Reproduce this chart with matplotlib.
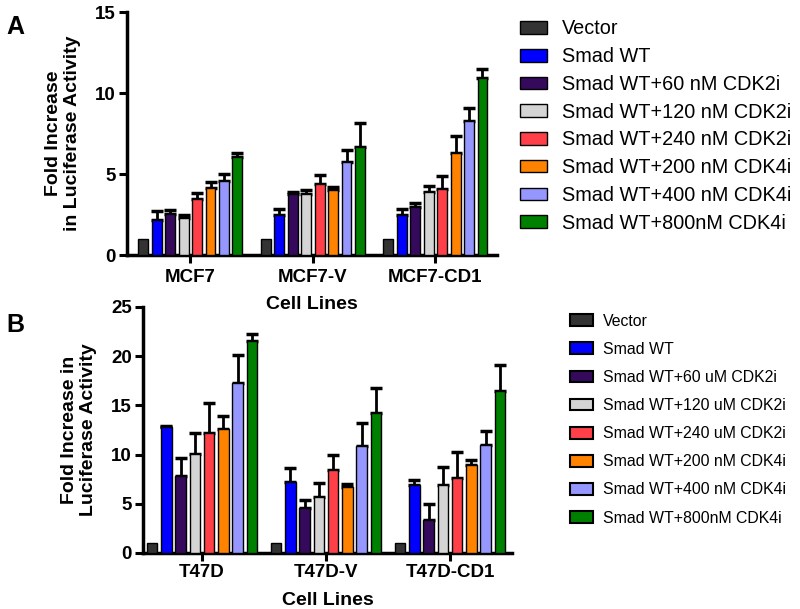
"""Luciferase reporter assay: fold increase per cell line, panels A and B."""

import numpy as np
from matplotlib import pyplot as plt
from matplotlib.patches import Patch

plt.rcParams["font.family"] = ["Liberation Sans", "DejaVu Sans"]

# panel A
groups_a = ["MCF7", "MCF7-V", "MCF7-CD1"]
labels_a = [
    "Vector",
    "Smad WT",
    "Smad WT+60 nM CDK2i",
    "Smad WT+120 nM CDK2i",
    "Smad WT+240 nM CDK2i",
    "Smad WT+200 nM CDK4i",
    "Smad WT+400 nM CDK4i",
    "Smad WT+800nM CDK4i",
]
mean_a = [
    [1.0, 1.0, 1.0],
    [2.2, 2.5, 2.45],
    [2.55, 3.8, 3.0],
    [2.3, 3.8, 3.9],
    [3.45, 4.4, 4.1],
    [4.15, 4.0, 6.3],
    [4.6, 5.75, 8.3],
    [6.05, 6.7, 10.95],
]
err_a = [
    [0.0, 0.0, 0.0],
    [0.5, 0.37, 0.41],
    [0.25, 0.12, 0.19],
    [0.17, 0.2, 0.4],
    [0.4, 0.55, 0.8],
    [0.35, 0.18, 1.05],
    [0.42, 0.77, 0.79],
    [0.25, 1.48, 0.57],
]

# panel B
groups_b = ["T47D", "T47D-V", "T47D-CD1"]
labels_b = [
    "Vector",
    "Smad WT",
    "Smad WT+60 uM CDK2i",
    "Smad WT+120 uM CDK2i",
    "Smad WT+240 uM CDK2i",
    "Smad WT+200 nM CDK4i",
    "Smad WT+400 nM CDK4i",
    "Smad WT+800nM CDK4i",
]
mean_b = [
    [1.0, 1.0, 1.0],
    [12.8, 7.2, 6.95],
    [7.8, 4.57, 3.4],
    [10.1, 5.7, 6.95],
    [12.2, 8.45, 7.6],
    [12.6, 6.7, 8.9],
    [17.25, 10.85, 11.0],
    [21.55, 14.2, 16.45],
]
err_b = [
    [0.0, 0.0, 0.0],
    [0.15, 1.45, 0.5],
    [1.8, 0.85, 1.6],
    [2.1, 1.42, 1.8],
    [3.05, 1.5, 2.7],
    [1.3, 0.3, 0.5],
    [2.9, 2.35, 1.35],
    [0.65, 2.55, 2.6],
]

colors = ["#333333", "#0000ff", "#35095c", "#d4d4d4",
          "#ff4048", "#ff8200", "#9696ff", "#008000"]


def draw_panel(ax, groups, means, errs, ylim, yticks, pitch, xlim, xpad, lpad):
    x = np.arange(len(groups))
    n = len(means)
    for i, (m, e) in enumerate(zip(means, errs)):
        pos = x + (i - (n - 1) / 2) * pitch
        ax.bar(pos, m, width=pitch * 0.74, color=colors[i],
               edgecolor="black", linewidth=1.0, zorder=3)
        e = np.asarray(e)
        if e.any():
            ax.errorbar(pos, m, yerr=[np.zeros_like(e), e], fmt="none",
                        ecolor="black", elinewidth=2.0, capsize=4,
                        capthick=2.5, zorder=2)
    ax.set_xlim(*xlim)
    ax.set_ylim(*ylim)
    ax.set_yticks(yticks)
    ax.set_xticks(x)
    ax.set_xticklabels(groups, fontsize=13.5, fontweight="bold")
    for lab in ax.get_yticklabels():
        lab.set_fontsize(13.5)
        lab.set_fontweight("bold")
    for side in ["top", "right"]:
        ax.spines[side].set_visible(False)
    for side in ["left", "bottom"]:
        ax.spines[side].set_linewidth(2.5)
    ax.tick_params(axis="both", width=2.2, length=6, direction="out", pad=2)
    ax.tick_params(axis="x", pad=xpad)
    ax.set_xlabel("Cell Lines", fontsize=14, fontweight="bold", labelpad=lpad)
    # transparent background so the panel above keeps its x label
    ax.patch.set_visible(False)


fig = plt.figure(figsize=(8, 6.09), dpi=100)

ax_a = fig.add_axes([0.159, 0.581, 0.4625, 0.399])
draw_panel(ax_a, groups_a, mean_a, err_a, (0, 15), [0, 5, 10, 15],
           0.11, (-0.515, 2.505), 4, 7)
ax_a.set_ylabel("Fold Increase\nin Luciferase Activity", fontsize=14,
                fontweight="bold", labelpad=10)

ax_b = fig.add_axes([0.179, 0.092, 0.461, 0.404])
draw_panel(ax_b, groups_b, mean_b, err_b, (0, 25), [0, 5, 10, 15, 20, 25],
           0.115, (-0.475, 2.5), 2, 8)
ax_b.set_ylabel("Fold Increase in\nLuciferase Activity", fontsize=14,
                fontweight="bold", labelpad=10)

fig.text(0.008, 0.955, "A", fontsize=18, fontweight="bold", va="center")
fig.text(0.008, 0.466, "B", fontsize=18, fontweight="bold", va="center")

handles_a = [Patch(facecolor=c, edgecolor="black", linewidth=1.0) for c in colors]
fig.legend(handles_a, labels_a, loc="upper left", bbox_to_anchor=(0.65, 0.968),
           frameon=False, fontsize=14.3, borderpad=0, borderaxespad=0,
           handlelength=1.36, handleheight=0.6, handletextpad=0.75,
           labelspacing=0.44)

handles_b = [Patch(facecolor=c, edgecolor="black", linewidth=1.5) for c in colors]
fig.legend(handles_b, labels_b, loc="upper left", bbox_to_anchor=(0.7125, 0.485),
           frameon=False, fontsize=11.4, borderpad=0, borderaxespad=0,
           handlelength=1.46, handleheight=0.76, handletextpad=0.63,
           labelspacing=0.83)

fig.savefig("out.png", dpi=100)
